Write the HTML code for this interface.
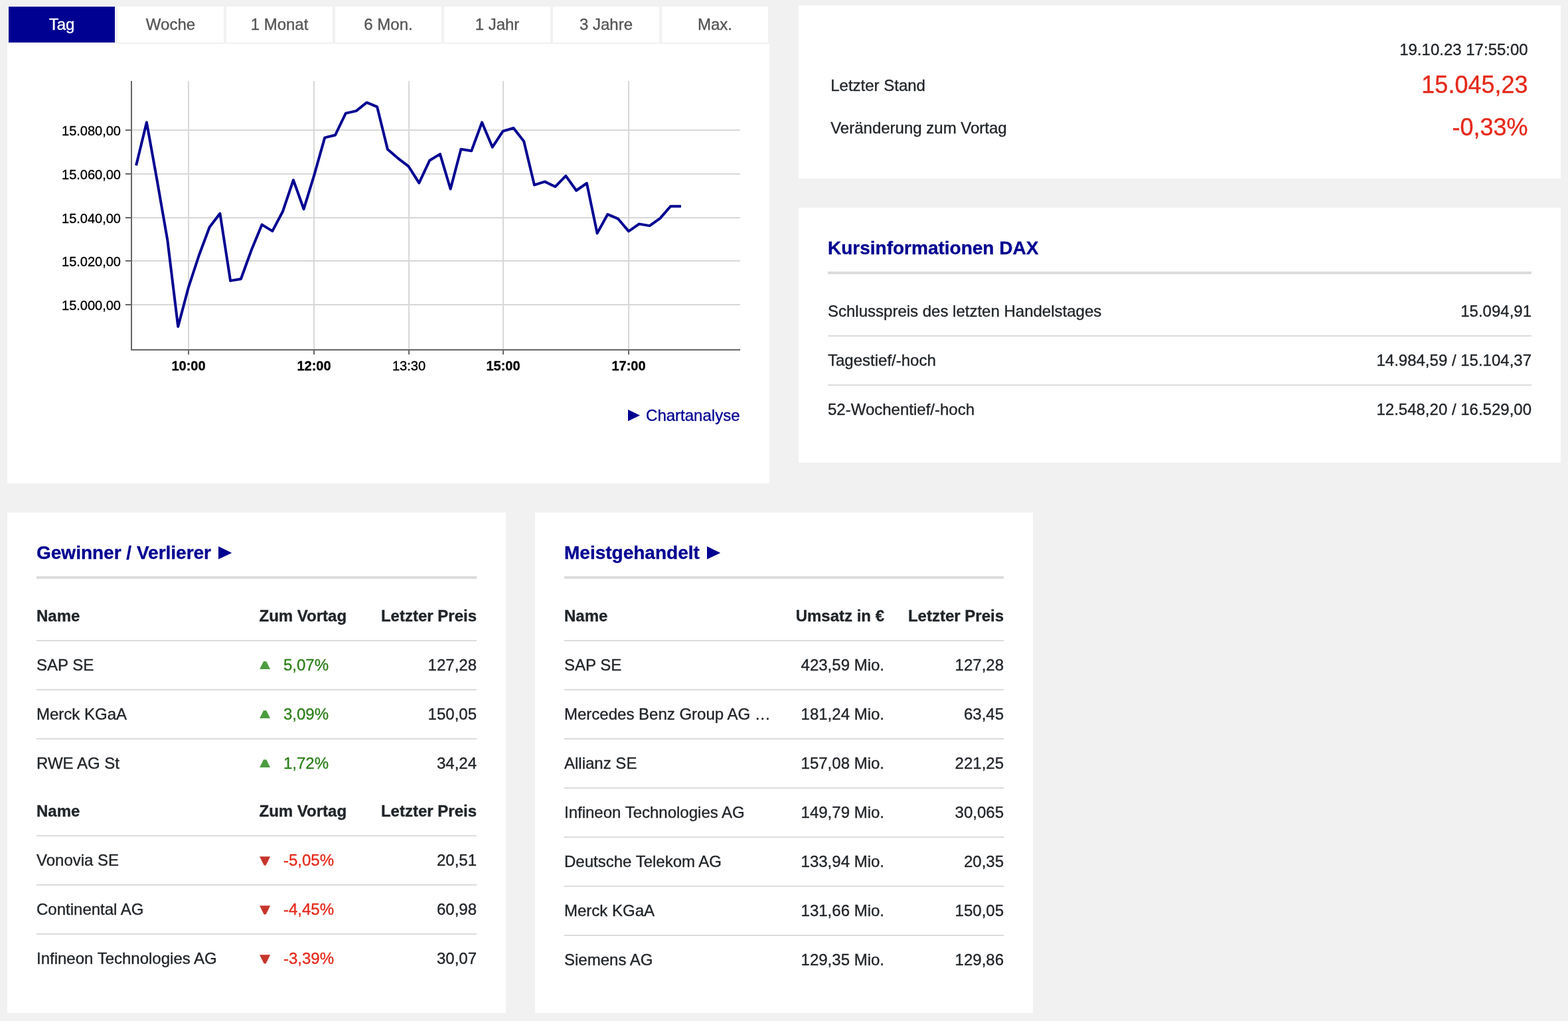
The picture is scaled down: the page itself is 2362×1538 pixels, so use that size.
<!DOCTYPE html>
<html lang="de">
<head>
<meta charset="utf-8">
<title>DAX – Kursinformationen</title>
<style>
html,body{margin:0;padding:0;width:2362px;height:1538px;background:#f1f1f1}
body{font-family:"Liberation Sans",Arial,Helvetica,sans-serif;color:#212529;font-size:24px;line-height:24px;
 -webkit-text-stroke:0.35px currentColor}
main{display:block;position:relative;width:2362px;height:1538px;overflow:hidden;background:#f1f1f1}
.a{position:absolute;display:block}
.panel{position:absolute;background:#fff}
.t{position:absolute;white-space:nowrap;line-height:24px;font-size:24px}
.r{text-align:right}
.tab{position:absolute;top:10px;width:160px;height:54px;line-height:54px;text-align:center;background:#fff;color:#555;font-size:24px}
.tab.on{background:#000091;color:#fff}
h2{position:absolute;margin:0;font-size:28px;line-height:28px;font-weight:bold;color:#000091;white-space:nowrap}
.rule{position:absolute;height:4px;background:#dcdcdc}
table{position:absolute;border-collapse:collapse;table-layout:fixed;font-size:24px}
td,th{padding:0;height:72px;line-height:72px;white-space:nowrap;overflow:hidden;border-bottom:2px solid #dcdcdc;font-weight:normal;text-align:left;vertical-align:middle}
th{font-weight:bold}
tr.last td{border-bottom:0}
.num{text-align:right}
.up{color:#2c7f1a}
.dn{color:#e5291b}
.ic{display:inline-block;width:36.5px;height:24px;vertical-align:top;position:relative}
.ic svg{position:absolute;left:0;top:0}
.link{color:#000091}
</style>
</head>
<body>
<main>

<nav class="tabs">
<div class="tab on" style="left:13px">Tag</div>
<div class="tab" style="left:177px">Woche</div>
<div class="tab" style="left:341px">1 Monat</div>
<div class="tab" style="left:505px">6 Mon.</div>
<div class="tab" style="left:669px">1 Jahr</div>
<div class="tab" style="left:833px">3 Jahre</div>
<div class="tab" style="left:997px">Max.</div>
</nav>
<div class="panel" style="left:11px;top:66px;width:1148px;height:662px"></div>
<svg class="a" style="left:0;top:66px" width="1170" height="662" viewBox="0 66 1170 662" font-family="Liberation Sans, Arial, Helvetica, sans-serif" font-size="20">
<line x1="284" y1="122" x2="284" y2="527" stroke="#d8d8d8" stroke-width="2"/>
<line x1="473" y1="122" x2="473" y2="527" stroke="#d8d8d8" stroke-width="2"/>
<line x1="616" y1="122" x2="616" y2="527" stroke="#d8d8d8" stroke-width="2"/>
<line x1="758" y1="122" x2="758" y2="527" stroke="#d8d8d8" stroke-width="2"/>
<line x1="947" y1="122" x2="947" y2="527" stroke="#d8d8d8" stroke-width="2"/>
<line x1="198" y1="196" x2="1115" y2="196" stroke="#d8d8d8" stroke-width="2"/>
<line x1="198" y1="262" x2="1115" y2="262" stroke="#d8d8d8" stroke-width="2"/>
<line x1="198" y1="328" x2="1115" y2="328" stroke="#d8d8d8" stroke-width="2"/>
<line x1="198" y1="393" x2="1115" y2="393" stroke="#d8d8d8" stroke-width="2"/>
<line x1="198" y1="459" x2="1115" y2="459" stroke="#d8d8d8" stroke-width="2"/>
<line x1="189" y1="196" x2="198" y2="196" stroke="#666" stroke-width="2"/>
<line x1="189" y1="262" x2="198" y2="262" stroke="#666" stroke-width="2"/>
<line x1="189" y1="328" x2="198" y2="328" stroke="#666" stroke-width="2"/>
<line x1="189" y1="393" x2="198" y2="393" stroke="#666" stroke-width="2"/>
<line x1="189" y1="459" x2="198" y2="459" stroke="#666" stroke-width="2"/>
<line x1="284" y1="527" x2="284" y2="534" stroke="#666" stroke-width="2"/>
<line x1="473" y1="527" x2="473" y2="534" stroke="#666" stroke-width="2"/>
<line x1="616" y1="527" x2="616" y2="534" stroke="#666" stroke-width="2"/>
<line x1="758" y1="527" x2="758" y2="534" stroke="#666" stroke-width="2"/>
<line x1="947" y1="527" x2="947" y2="534" stroke="#666" stroke-width="2"/>
<line x1="198" y1="122" x2="198" y2="528" stroke="#666" stroke-width="2"/>
<line x1="197" y1="527" x2="1115" y2="527" stroke="#666" stroke-width="2"/>
<polyline fill="none" stroke="#000091" stroke-width="4" stroke-linejoin="round" stroke-linecap="butt" points="205.1,249.2 220.9,184.3 236.6,271.6 252.4,362.4 268.2,492.0 284.0,432.6 299.8,384.5 315.6,342.3 331.4,321.5 347.1,422.9 362.9,420.3 378.7,376.7 394.5,338.4 410.3,348.1 426.1,318.2 441.9,271.2 457.6,315.0 473.4,263.3 489.2,207.4 505.0,203.5 520.8,170.6 536.6,167.1 552.4,154.4 568.1,160.9 583.9,224.9 599.7,238.6 615.5,250.7 631.3,275.6 647.1,241.8 662.9,232.1 678.6,284.7 694.4,224.7 710.2,227.3 726.0,184.4 741.8,221.7 757.6,197.7 773.4,192.8 789.1,212.7 804.9,278.6 820.7,273.6 836.5,281.2 852.3,264.9 868.1,287.0 883.9,276.0 899.6,351.4 915.4,322.8 931.2,329.7 947.0,348.4 962.8,337.4 978.6,340.1 994.4,328.9 1010.1,310.7 1025.9,310.7"/>
<text x="182" y="204" text-anchor="end" fill="#000" stroke="#000" stroke-width="0.35">15.080,00</text>
<text x="182" y="270" text-anchor="end" fill="#000" stroke="#000" stroke-width="0.35">15.060,00</text>
<text x="182" y="336" text-anchor="end" fill="#000" stroke="#000" stroke-width="0.35">15.040,00</text>
<text x="182" y="401" text-anchor="end" fill="#000" stroke="#000" stroke-width="0.35">15.020,00</text>
<text x="182" y="467" text-anchor="end" fill="#000" stroke="#000" stroke-width="0.35">15.000,00</text>
<text x="284" y="558" text-anchor="middle" fill="#000" stroke="#000" stroke-width="0.35" font-weight="bold">10:00</text>
<text x="473" y="558" text-anchor="middle" fill="#000" stroke="#000" stroke-width="0.35" font-weight="bold">12:00</text>
<text x="616" y="558" text-anchor="middle" fill="#000" stroke="#000" stroke-width="0.35">13:30</text>
<text x="758" y="558" text-anchor="middle" fill="#000" stroke="#000" stroke-width="0.35" font-weight="bold">15:00</text>
<text x="947" y="558" text-anchor="middle" fill="#000" stroke="#000" stroke-width="0.35" font-weight="bold">17:00</text>
</svg>
<svg class="a" style="left:946px;top:617px" width="18" height="17.4" viewBox="0 0 18 17.4"><polygon points="0,0 18,8.7 0,17.4" fill="#000091"/></svg>
<a class="t link r" style="left:900px;top:613.7px;width:214.5px">Chartanalyse</a>
<div class="panel" style="left:1203px;top:8px;width:1148px;height:261px"></div>
<div class="t r " style="left:1701.7px;width:600px;top:62.5px;font-size:24px;line-height:24px;">19.10.23 17:55:00</div>
<div class="t " style="left:1251.2px;top:117.0px;font-size:24px;line-height:24px;">Letzter Stand</div>
<div class="t r dn" style="left:1701.5px;width:600px;top:109.8px;font-size:36px;line-height:36px;">15.045,23</div>
<div class="t " style="left:1251.2px;top:180.5px;font-size:24px;line-height:24px;">Veränderung zum Vortag</div>
<div class="t r dn" style="left:1701.5px;width:600px;top:174.3px;font-size:36px;line-height:36px;">-0,33%</div>
<div class="panel" style="left:1203px;top:313px;width:1148px;height:384px"></div>
<h2 style="left:1247px;top:359.9px">Kursinformationen DAX</h2>
<div class="rule" style="left:1247px;top:409px;width:1060px"></div>
<table style="left:1247px;top:433px;width:1060px">
<tr><td>Schlusspreis des letzten Handelstages</td><td class="num">15.094,91</td></tr>
<tr><td>Tagestief/-hoch</td><td class="num">14.984,59 / 15.104,37</td></tr>
<tr class="last"><td>52-Wochentief/-hoch</td><td class="num">12.548,20 / 16.529,00</td></tr>
</table>
<div class="panel" style="left:11px;top:772px;width:751px;height:754px"></div>
<h2 style="left:55px;top:818.5px">Gewinner / Verlierer</h2>
<svg class="a" style="left:329.2px;top:823.2px" width="20.2" height="19.6" viewBox="0 0 20.2 19.6"><polygon points="0,0 20.2,9.8 0,19.6" fill="#000091"/></svg>
<div class="rule" style="left:55px;top:868px;width:663px"></div>
<table style="left:55px;top:892px;width:663px"><colgroup><col style="width:335.5px"><col style="width:170px"><col></colgroup>
<tr><th>Name</th><th>Zum Vortag</th><th class="num">Letzter Preis</th></tr>
<tr><td>SAP SE</td><td class="up"><span class="ic"><svg width="20" height="72" viewBox="0 0 20 72"><polygon points="0.1,42 16.1,42 10.2,30.2 6,30.2" fill="#4b9c3f"/></svg></span>5,07%</td><td class="num">127,28</td></tr>
<tr><td>Merck KGaA</td><td class="up"><span class="ic"><svg width="20" height="72" viewBox="0 0 20 72"><polygon points="0.1,42 16.1,42 10.2,30.2 6,30.2" fill="#4b9c3f"/></svg></span>3,09%</td><td class="num">150,05</td></tr>
<tr class="last"><td>RWE AG St</td><td class="up"><span class="ic"><svg width="20" height="72" viewBox="0 0 20 72"><polygon points="0.1,42 16.1,42 10.2,30.2 6,30.2" fill="#4b9c3f"/></svg></span>1,72%</td><td class="num">34,24</td></tr>
</table>
<table style="left:55px;top:1186px;width:663px"><colgroup><col style="width:335.5px"><col style="width:170px"><col></colgroup>
<tr><th>Name</th><th>Zum Vortag</th><th class="num">Letzter Preis</th></tr>
<tr><td>Vonovia SE</td><td class="dn"><span class="ic"><svg width="20" height="72" viewBox="0 0 20 72"><polygon points="0.1,30.2 16.1,30.2 9.6,43.5 6.6,43.5" fill="#c6352b"/></svg></span>-5,05%</td><td class="num">20,51</td></tr>
<tr><td>Continental AG</td><td class="dn"><span class="ic"><svg width="20" height="72" viewBox="0 0 20 72"><polygon points="0.1,30.2 16.1,30.2 9.6,43.5 6.6,43.5" fill="#c6352b"/></svg></span>-4,45%</td><td class="num">60,98</td></tr>
<tr class="last"><td>Infineon Technologies AG</td><td class="dn"><span class="ic"><svg width="20" height="72" viewBox="0 0 20 72"><polygon points="0.1,30.2 16.1,30.2 9.6,43.5 6.6,43.5" fill="#c6352b"/></svg></span>-3,39%</td><td class="num">30,07</td></tr>
</table>
<div class="panel" style="left:806px;top:772px;width:750px;height:754px"></div>
<h2 style="left:850px;top:818.5px">Meistgehandelt</h2>
<svg class="a" style="left:1064.8px;top:823.2px" width="20.2" height="19.6" viewBox="0 0 20.2 19.6"><polygon points="0,0 20.2,9.8 0,19.6" fill="#000091"/></svg>
<div class="rule" style="left:850px;top:868px;width:662px"></div>
<table style="left:850px;top:892px;width:662px"><colgroup><col style="width:312px"><col style="width:170px"><col></colgroup>
<tr><th>Name</th><th class="num">Umsatz in €</th><th class="num">Letzter Preis</th></tr>
<tr><td>SAP SE</td><td class="num">423,59 Mio.</td><td class="num">127,28</td></tr>
<tr><td>Mercedes Benz Group AG …</td><td class="num">181,24 Mio.</td><td class="num">63,45</td></tr>
<tr><td>Allianz SE</td><td class="num">157,08 Mio.</td><td class="num">221,25</td></tr>
<tr><td>Infineon Technologies AG</td><td class="num">149,79 Mio.</td><td class="num">30,065</td></tr>
<tr><td>Deutsche Telekom AG</td><td class="num">133,94 Mio.</td><td class="num">20,35</td></tr>
<tr><td>Merck KGaA</td><td class="num">131,66 Mio.</td><td class="num">150,05</td></tr>
<tr class="last"><td>Siemens AG</td><td class="num">129,35 Mio.</td><td class="num">129,86</td></tr>
</table>
</main>
</body>
</html>
